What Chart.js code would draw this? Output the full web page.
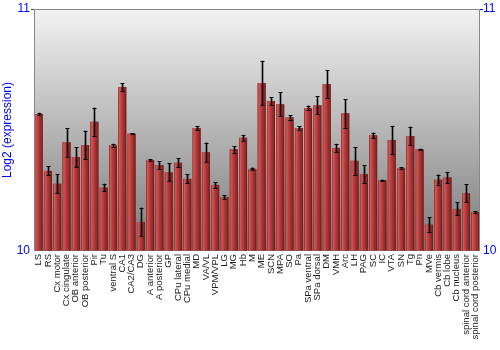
<!DOCTYPE html>
<html><head><meta charset="utf-8">
<script src="https://cdn.jsdelivr.net/npm/chart.js@4.4.1/dist/chart.umd.min.js"></script>
<style>html,body{margin:0;padding:0;background:#fff}#w{width:500px;height:350px}</style>
</head><body><div id="w"><canvas id="c" width="500" height="350"></canvas></div>
<script>
const categories = ["LS","RS","Cx motor","Cx cingulate","OB anterior","OB posterior","Pir","Tu","ventral S","CA1","CA2/CA3","DG","A anterior","A posterior","GP","CPu lateral","CPu medial","MD","VA/VL","VPM/VPL","LG","MG","Hb","M","ME","SCN","MPA","SO","Pa","SPa ventral","SPa dorsal","DM","VMH","Arc","LH","PAG","SC","IC","VTA","SN","Tg","Pn","MVe","Cb vermis","Cb lobe","Cb nucleus","spinal cord anterior","spinal cord posterior"];
const values = [10.566,10.331,10.278,10.449,10.388,10.438,10.534,10.262,10.437,10.678,10.485,10.120,10.376,10.355,10.325,10.365,10.298,10.508,10.408,10.273,10.223,10.420,10.468,10.339,10.694,10.620,10.606,10.552,10.508,10.591,10.602,10.690,10.426,10.569,10.373,10.318,10.478,10.293,10.459,10.343,10.475,10.420,10.109,10.295,10.304,10.174,10.238,10.161];
const errors = [0.005,0.019,0.040,0.059,0.041,0.059,0.058,0.016,0.006,0.016,0.002,0.059,0.004,0.015,0.037,0.019,0.019,0.007,0.040,0.012,0.007,0.014,0.012,0.006,0.092,0.016,0.050,0.009,0.007,0.010,0.037,0.056,0.017,0.059,0.057,0.036,0.011,0.002,0.058,0.003,0.039,0.003,0.030,0.021,0.023,0.027,0.037,0.003];
const yTicks = [10, 11];

const deco = {
  id: 'deco',
  beforeDatasetsDraw(chart) {
    const {ctx, chartArea: a} = chart;
    const g = ctx.createLinearGradient(0, a.top, 0, a.bottom);
    g.addColorStop(0, '#f2f2f2');
    g.addColorStop(1, '#7a7a7a');
    ctx.save();
    ctx.fillStyle = g;
    ctx.fillRect(a.left, a.top, a.right - a.left, a.bottom - a.top);
    ctx.restore();
  },
  afterDatasetsDraw(chart) {
    const {ctx, chartArea: a} = chart;
    const meta = chart.getDatasetMeta(0);
    const ys = chart.scales.y;
    ctx.save();
    meta.data.forEach((el, i) => {
      const x0 = el.x - el.width / 2, x1 = el.x + el.width / 2;
      const g = ctx.createLinearGradient(x0, 0, x1, 0);
      g.addColorStop(0, '#8a2a2a');
      g.addColorStop(0.15, '#cc5a5a');
      g.addColorStop(0.45, '#b83a3a');
      g.addColorStop(0.85, '#8e2626');
      g.addColorStop(1, '#5e1616');
      ctx.fillStyle = g;
      ctx.fillRect(x0, el.y, x1 - x0, el.base - el.y);
    });
    meta.data.forEach((el, i) => {
      const yt = ys.getPixelForValue(values[i] + errors[i]);
      const yb = ys.getPixelForValue(values[i] - errors[i]);
      const x = Math.round(el.x) + 0.5;
      ctx.strokeStyle = 'rgba(0,0,0,0.3)';
      ctx.lineWidth = 3;
      ctx.beginPath();
      ctx.moveTo(x, yt); ctx.lineTo(x, yb);
      ctx.stroke();
      ctx.strokeStyle = '#000';
      ctx.lineWidth = 1;
      ctx.beginPath();
      ctx.moveTo(x, yt); ctx.lineTo(x, yb);
      ctx.moveTo(x - 2, Math.round(yt) + 0.5); ctx.lineTo(x + 2, Math.round(yt) + 0.5);
      ctx.moveTo(x - 2, Math.round(yb) + 0.5); ctx.lineTo(x + 2, Math.round(yb) + 0.5);
      ctx.stroke();
    });
    ctx.strokeStyle = '#888';
    ctx.lineWidth = 1;
    ctx.beginPath();
    ctx.moveTo(a.left + 0.5, a.bottom);
    ctx.lineTo(a.left + 0.5, a.top + 0.5);
    ctx.lineTo(a.right - 0.5, a.top + 0.5);
    ctx.lineTo(a.right - 0.5, a.bottom);
    ctx.stroke();
    ctx.restore();
  }
};

new Chart(document.getElementById('c'), {
  type: 'bar',
  data: {
    labels: categories,
    datasets: [{
      data: values,
      backgroundColor: '#b03535',
      borderWidth: 0,
      base: 10,
      categoryPercentage: 1.0,
      barPercentage: 0.86
    }]
  },
  options: {
    responsive: false,
    animation: false,
    devicePixelRatio: 1,
    layout: { padding: { top: 9, left: 0, right: 0, bottom: 0 } },
    plugins: { legend: { display: false }, tooltip: { enabled: false } },
    scales: {
      x: {
        grid: { display: false, drawTicks: false },
        border: { display: false },
        ticks: {
          autoSkip: false, maxRotation: 90, minRotation: 90, padding: 3,
          color: '#222', font: { family: 'Liberation Sans, Arial, sans-serif', size: 9.5 }
        },
        afterFit(s) { s.height = 99; }
      },
      y: {
        position: 'left',
        min: 10, max: 11,
        afterBuildTicks(s) { s.ticks = yTicks.map(v => ({ value: v })); },
        grid: { drawOnChartArea: false, tickLength: 3, color: (c) => c.tick && c.tick.value === 11 ? '#444' : 'rgba(0,0,0,0)' },
        border: { display: false },
        ticks: { padding: 1, color: '#0000ff', font: { family: 'Liberation Sans, Arial, sans-serif', size: 12 } },
        title: { display: true, text: 'Log2 (expression)', color: '#0000ff', padding: 0,
                 font: { family: 'Liberation Sans, Arial, sans-serif', size: 12 } },
        afterFit(s) { s.width = 34; }
      },
      y2: {
        position: 'right',
        min: 10, max: 11,
        afterBuildTicks(s) { s.ticks = yTicks.map(v => ({ value: v })); },
        grid: { drawOnChartArea: false, tickLength: 3, color: (c) => c.tick && c.tick.value === 11 ? '#0000ff' : 'rgba(0,0,0,0)' },
        border: { display: false },
        ticks: { padding: 0, color: '#0000ff', font: { family: 'Liberation Sans, Arial, sans-serif', size: 12 } },
        afterFit(s) { s.width = 20; }
      }
    }
  },
  plugins: [deco]
});
</script>
</body></html>
